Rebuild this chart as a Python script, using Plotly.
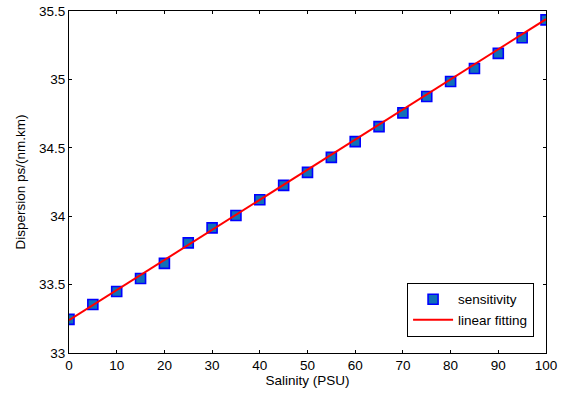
import plotly.graph_objects as go

salinity = [0, 5, 10, 15, 20, 25, 30, 35, 40, 45, 50, 55, 60, 65, 70, 75, 80, 85, 90, 95, 100]
dispersion = [33.246, 33.355, 33.45, 33.545, 33.655, 33.805, 33.915, 34.005, 34.12, 34.225,
              34.32, 34.43, 34.545, 34.655, 34.755, 34.875, 34.985, 35.08, 35.19, 35.305, 35.435]
fit_x = [0, 100]
fit_y = [33.24, 35.44]

x_ticks = [0, 10, 20, 30, 40, 50, 60, 70, 80, 90, 100]
y_ticks = [33, 33.5, 34, 34.5, 35, 35.5]
y_ticklabels = ["33", "33.5", "34", "34.5", "35", "35.5"]

font = dict(family="Liberation Sans, Arial, sans-serif", size=13.5, color="#000000")

fig = go.Figure()
fig.add_trace(go.Scatter(
    x=salinity, y=dispersion, mode="markers", name="sensitivity",
    marker=dict(symbol="square", size=10, color="#1070b8",
                line=dict(color="#0000ff", width=1.6)),
))
fig.add_trace(go.Scatter(
    x=fit_x, y=fit_y, mode="lines", name="linear fitting",
    line=dict(color="#ff0000", width=2),
))

axis_common = dict(
    showgrid=False, zeroline=False, showline=True, linecolor="#000000", linewidth=1,
    mirror="allticks", ticks="inside", ticklen=3, tickcolor="#000000", tickwidth=1,
    tickfont=font, automargin=False,
)
fig.update_xaxes(range=[0, 100], tickvals=x_ticks, title=dict(text="Salinity (PSU)", font=font, standoff=2),
                 **axis_common)
fig.update_yaxes(range=[33, 35.5], tickvals=y_ticks, ticktext=y_ticklabels,
                 title=dict(text="Dispersion ps/(nm.km)", font=font, standoff=10), **axis_common)

fig.update_layout(
    width=564, height=396,
    margin=dict(l=69, r=18, t=11, b=43),
    paper_bgcolor="#ffffff", plot_bgcolor="#ffffff",
    font=font,
    legend=dict(x=0.975, y=0.047, xanchor="right", yanchor="bottom",
                bordercolor="#000000", borderwidth=1, bgcolor="#ffffff",
                font=font, tracegroupgap=0, itemwidth=40),
    showlegend=True,
)

fig.write_html("out.html")
